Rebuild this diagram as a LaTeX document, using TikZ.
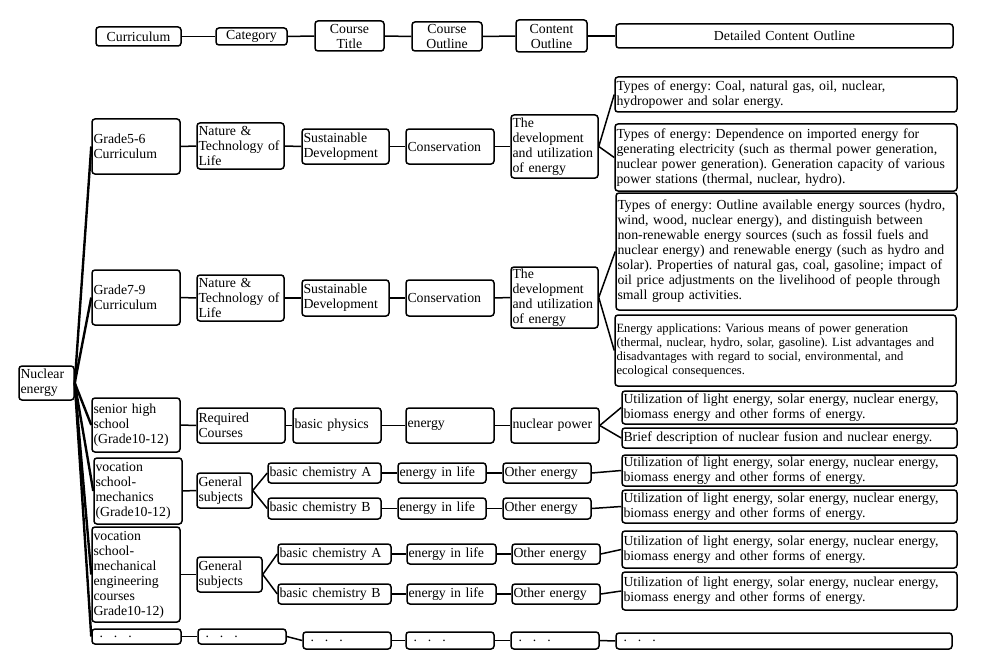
\documentclass[tikz,border=0pt]{standalone}
\usepackage{fontspec}
\setmainfont{Liberation Serif}
\frenchspacing
\newcommand\mybox[7][]{%
  \pgfmathsetmacro\mbw{#5-#3}%
  \pgfmathsetmacro\mbh{#6-#4}%
  \pgfmathsetmacro\mbt{#5-#3-3}%
  \node[bx,minimum width=\mbw pt,minimum height=\mbh pt,text width=\mbt pt,#1] (#2) at ({(#3+#5)/2},{(#4+#6)/2}) {#7};}
\tikzset{
  bx/.style={draw, line width=1.5pt, rounded corners=3pt, inner xsep=1.5pt, inner ysep=0pt,
    align=left, font=\fontsize{13.8}{15}\selectfont\frenchspacing},
  hd/.style={align=center},
  smallfont/.style={font=\fontsize{12.6}{14}\selectfont\frenchspacing},
  conn/.style={line width=1.5pt},
  rootln/.style={line width=2.4pt},
}
\newcommand\udots{\hspace*{6pt}.\hspace{11pt}.\hspace{11pt}.}
\newcommand\utiltext{Utilization of light energy, solar energy, nuclear energy,\\biomass energy and other forms of energy.}
\begin{document}
\begin{tikzpicture}[x=1pt,y=-1pt]
\useasboundingbox (0,0) rectangle (989,669);
% header
\mybox[hd]{h1}{96}{27}{181}{46}{Curriculum}
\mybox[hd]{h2}{216}{28}{287}{45}{Category}
\mybox[hd]{h3}{315}{21}{384}{51}{Course\\Title}
\mybox[hd]{h4}{412}{22}{482}{51}{Course\\Outline}
\mybox[hd]{h5}{516}{20}{587}{52}{Content\\Outline}
\mybox[hd]{h6}{616}{24}{953}{48}{Detailed Content Outline}
% root
\mybox{root}{19}{366}{74}{400}{Nuclear\\energy}
% grade 5-6
\mybox{g56}{92}{119}{180}{174}{Grade5-6\\Curriculum}
\mybox{n56}{197}{123}{284}{169}{Nature \&\\Technology of\\Life}
\mybox{s56}{302}{129}{389}{164}{Sustainable\\Development}
\mybox{c56}{406}{129}{494}{164}{Conservation}
\mybox{d56}{511}{115}{598}{178}{The\\development\\and utilization\\of energy}
\mybox{t1}{615}{77}{957}{112}{Types of energy: Coal, natural gas, oil, nuclear,\\hydropower and solar energy.}
\mybox{t2}{615}{124}{957}{191}{Types of energy: Dependence on imported energy for\\generating electricity (such as thermal power generation,\\nuclear power generation). Generation capacity of various\\power stations (thermal, nuclear, hydro).}
% grade 7-9
\mybox{g79}{92}{270}{180}{325}{Grade7-9\\Curriculum}
\mybox{n79}{197}{275}{284}{321}{Nature \&\\Technology of\\Life}
\mybox{s79}{302}{280}{389}{316}{Sustainable\\Development}
\mybox{c79}{406}{280}{494}{316}{Conservation}
\mybox{d79}{511}{267}{598}{328}{The\\development\\and utilization\\of energy}
\mybox{t3}{616}{193}{957}{310}{Types of energy: Outline available energy sources (hydro,\\wind, wood, nuclear energy), and distinguish between\\non-renewable energy sources (such as fossil fuels and\\nuclear energy) and renewable energy (such as hydro and\\solar). Properties of natural gas, coal, gasoline; impact of\\oil price adjustments on the livelihood of people through\\small group activities.}
\mybox[smallfont]{t4}{615}{315}{956}{386}{Energy applications: Various means of power generation\\(thermal, nuclear, hydro, solar, gasoline). List advantages and\\disadvantages with regard to social, environmental, and\\ecological consequences.}
% senior high
\mybox{sh}{92}{398}{180}{452}{senior high\\school\\(Grade10-12)}
\mybox{rc}{197}{408}{285}{443}{Required\\Courses}
\mybox{bp}{293}{408}{381}{443}{basic physics}
\mybox{en}{406}{408}{494}{443}{energy}
\mybox{np}{511}{408}{599}{443}{nuclear power}
\mybox{u1}{622}{391}{957}{424}{\utiltext}
\mybox{b1}{622}{428}{957}{448}{Brief description of nuclear fusion and nuclear energy.}
% vocation mechanics
\mybox{vm}{94}{458}{182}{524}{vocation\\school-\\mechanics\\(Grade10-12)}
\mybox{gs1}{197}{473}{252}{508}{General\\subjects}
\mybox{ca1}{268}{463}{381}{483}{basic chemistry A}
\mybox{cb1}{268}{498}{381}{519}{basic chemistry B}
\mybox{el1}{398}{463}{486}{483}{energy in life}
\mybox{el2}{398}{498}{486}{519}{energy in life}
\mybox{oe1}{503}{463}{591}{483}{Other energy}
\mybox{oe2}{503}{498}{591}{519}{Other energy}
\mybox{u2}{622}{455}{957}{486}{\utiltext}
\mybox{u3}{622}{490}{957}{523}{\utiltext}
% vocation mechanical engineering
\mybox{me}{92}{527}{180}{622}{vocation\\school-\\mechanical\\engineering\\courses\\Grade10-12)}
\mybox{gs2}{197}{557}{262}{592}{General\\subjects}
\mybox{ca2}{278}{544}{391}{564}{basic chemistry A}
\mybox{cb2}{278}{584}{391}{604}{basic chemistry B}
\mybox{el3}{407}{544}{496}{564}{energy in life}
\mybox{el4}{407}{584}{496}{604}{energy in life}
\mybox{oe3}{512}{544}{600}{564}{Other energy}
\mybox{oe4}{512}{584}{600}{604}{Other energy}
\mybox{u4}{622}{531}{957}{568}{\utiltext}
\mybox{u5}{622}{572}{957}{610}{\utiltext}
% dots row
\mybox{d1}{92}{629}{181}{644}{\udots}
\mybox{d2}{198}{629}{286}{644}{\udots}
\mybox{d3}{303}{632}{391}{649}{\udots}
\mybox{d4}{406}{632}{494}{649}{\udots}
\mybox{d5}{511}{632}{599}{649}{\udots}
\mybox{d6}{616}{633}{952}{649}{\udots}
% connectors
\draw[conn] (h1) -- (h2);
\draw[conn] (h2) -- (h3);
\draw[conn] (h3) -- (h4);
\draw[conn] (h4) -- (h5);
\draw[conn] (h5) -- (h6);
\foreach \a/\b in {root/g56,root/g79,root/sh,root/vm,root/me,root/d1}
  \draw[rootln] (\a.east) -- (\b.west);
\foreach \a/\b in {g56/n56,n56/s56,s56/c56,c56/d56,g79/n79,n79/s79,s79/c79,c79/d79,
  sh/rc,rc/bp,bp/en,en/np,vm/gs1,ca1/el1,el1/oe1,cb1/el2,el2/oe2,
  me/gs2,ca2/el3,el3/oe3,cb2/el4,el4/oe4,d1/d2,d2/d3,d3/d4,d4/d5,d5/d6}
  \draw[conn] (\a.east) -- (\b.west);
\foreach \a/\b in {d56/t1,d56/t2,d79/t3,d79/t4,np/u1,np/b1,gs1/ca1,gs1/cb1,gs2/ca2,gs2/cb2,
  oe1/u2,oe2/u3,oe3/u4,oe4/u5}
  \draw[conn] (\a.east) -- (\b.west);
\end{tikzpicture}
\end{document}
